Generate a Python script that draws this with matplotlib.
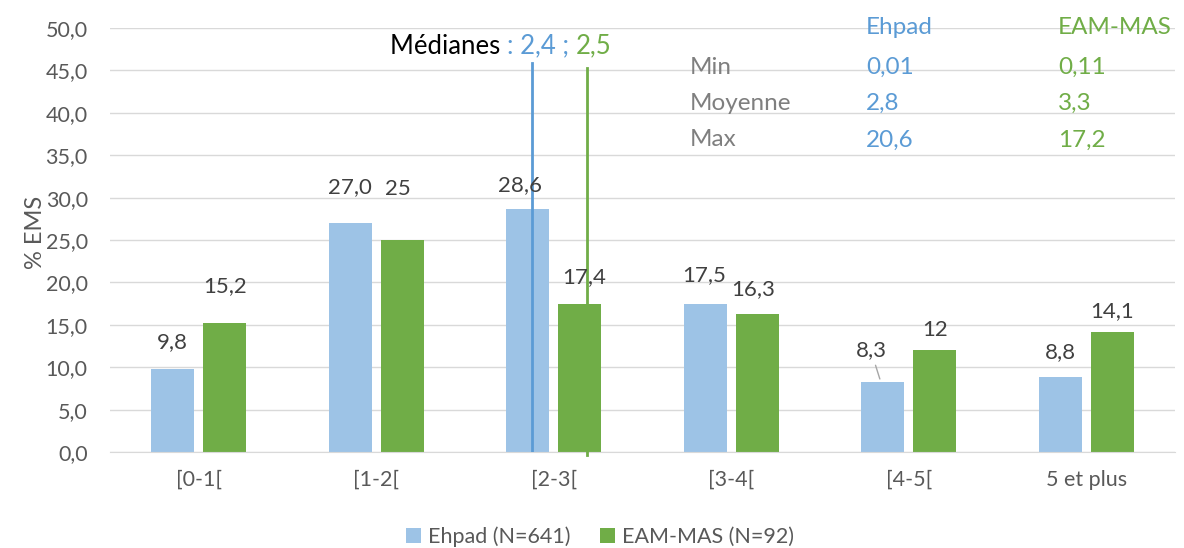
import matplotlib
matplotlib.use("Agg")
import matplotlib.pyplot as plt
import numpy as np

categories = ["[0-1[", "[1-2[", "[2-3[", "[3-4[", "[4-5[", "5 et plus"]
ehpad = [9.8, 27.0, 28.6, 17.5, 8.3, 8.8]
eam = [15.2, 25, 17.4, 16.3, 12, 14.1]
ehpad_labels = ["9,8", "27,0", "28,6", "17,5", "8,3", "8,8"]
eam_labels = ["15,2", "25", "17,4", "16,3", "12", "14,1"]
series_names = ["Ehpad (N=641)", "EAM-MAS (N=92)"]
yticks = [0, 5, 10, 15, 20, 25, 30, 35, 40, 45, 50]
ytick_labels = ["0,0", "5,0", "10,0", "15,0", "20,0", "25,0", "30,0", "35,0", "40,0", "45,0", "50,0"]
stat_rows = ["Min", "Moyenne", "Max"]
stat_ehpad = ["0,01", "2,8", "20,6"]
stat_eam = ["0,11", "3,3", "17,2"]
medians = ["2,4", "2,5"]

C_BLUE = "#9DC3E6"
C_GREEN = "#70AD47"
T_BLUE = "#5B9BD5"
T_GREEN = "#70AD47"
GREY = "#595959"

plt.rcParams['font.family'] = ['Lato', 'DejaVu Sans']

FS = 15.5
FS_LAB = 16
FS_STAT = 17.5
FS_MED = 18.5

fig = plt.figure(figsize=(11.84, 5.48), dpi=100)
ax = fig.add_axes([110/1184, 96/548, 1065/1184, 424/548])

def fx(px):
    return (px - 110) / 1065
def fy(py):
    return (452 - py) / 424

x = np.arange(len(categories))
w = 0.242
gap = 0.05
b1 = ax.bar(x - (w + gap)/2, ehpad, w, color=C_BLUE, label=series_names[0], zorder=2)
b2 = ax.bar(x + (w + gap)/2, eam, w, color=C_GREEN, label=series_names[1], zorder=2)

# label offsets in pixels (dx, dy)
off1 = [(0, 27), (0, 36), (-8, 24), (-1, 29), (-11, 32), (0, 25)]
off2 = [(0, 37), (-4, 51), (4, 27), (-4, 25), (0, 20), (0, 21)]
for rect, lab, (dx, dy) in zip(b1, ehpad_labels, off1):
    ax.annotate(lab, (rect.get_x() + rect.get_width()/2, rect.get_height()),
                xytext=(dx*0.72, dy*0.72), textcoords="offset points",
                ha="center", va="center", fontsize=FS_LAB, color="#404040", zorder=4)
for rect, lab, (dx, dy) in zip(b2, eam_labels, off2):
    ax.annotate(lab, (rect.get_x() + rect.get_width()/2, rect.get_height()),
                xytext=(dx*0.72, dy*0.72), textcoords="offset points",
                ha="center", va="center", fontsize=FS_LAB, color="#404040", zorder=4)

# leader line for 8,3
r = b1[4]
ax.annotate("", (r.get_x() + r.get_width()*0.45, r.get_height()),
            xytext=(-6*0.72, 19*0.72), textcoords="offset points",
            arrowprops=dict(arrowstyle="-", color="#A6A6A6", lw=1))

# median lines
ax.plot([1.876, 1.876], [0, 45.9], color=T_BLUE, lw=2, zorder=3)
ax.plot([2.19, 2.19], [-0.35, 45.3], color=T_GREEN, lw=2, zorder=3, clip_on=False)

# composite median text
ymed = fy(46)
t0 = ax.text(fx(390), ymed, "Médianes ", transform=ax.transAxes, fontsize=FS_MED, color="black",
             ha="left", va="center")
fig.canvas.draw()
inv = ax.transAxes.inverted()
bb = t0.get_window_extent()
xx = inv.transform((bb.x1, bb.y0))[0]
t1 = ax.text(xx, ymed, ": " + medians[0] + " ; ", transform=ax.transAxes, fontsize=FS_MED,
             color=T_BLUE, ha="left", va="center")
fig.canvas.draw()
bb = t1.get_window_extent()
xx = inv.transform((bb.x1, bb.y0))[0]
ax.text(xx, ymed, medians[1], transform=ax.transAxes, fontsize=FS_MED,
        color=T_GREEN, ha="left", va="center")

# stats table
ax.text(fx(866), fy(28), "Ehpad", transform=ax.transAxes, fontsize=FS_STAT, color=T_BLUE, ha="left", va="center")
ax.text(fx(1058), fy(28), "EAM-MAS", transform=ax.transAxes, fontsize=FS_STAT, color=T_GREEN, ha="left", va="center")
for i, (rl, a, b) in enumerate(zip(stat_rows, stat_ehpad, stat_eam)):
    yy = fy(67 + i*36.5)
    ax.text(fx(690), yy, rl, transform=ax.transAxes, fontsize=FS_STAT, color="#7F7F7F", ha="left", va="center")
    ax.text(fx(866), yy, a, transform=ax.transAxes, fontsize=FS_STAT, color=T_BLUE, ha="left", va="center")
    ax.text(fx(1058), yy, b, transform=ax.transAxes, fontsize=FS_STAT, color=T_GREEN, ha="left", va="center")

ax.set_ylim(0, 50)
ax.set_xlim(-0.5, len(categories) - 0.5)
ax.set_yticks(yticks)
ax.set_yticklabels(ytick_labels)
ax.set_xticks(x)
ax.set_xticklabels(categories)
ax.tick_params(axis="x", length=0, labelsize=FS, colors=GREY, pad=13)
ax.tick_params(axis="y", length=0, labelsize=FS, colors=GREY, pad=16)
ax.grid(axis="y", color="#D9D9D9", lw=1, zorder=0)
ax.set_axisbelow(True)
for s in ["top", "right", "left"]:
    ax.spines[s].set_visible(False)
ax.spines["bottom"].set_color("#D9D9D9")
ax.set_ylabel("% EMS", fontsize=17, color=GREY)
ax.yaxis.set_label_coords(fx(46), fy(232))

ax.legend(loc="center", bbox_to_anchor=(fx(600), fy(537)), ncol=2, frameon=False,
          fontsize=FS, labelcolor=GREY, handlelength=0.7, handleheight=0.7,
          handletextpad=0.3, columnspacing=1.4)

fig.savefig("out.png", dpi=100)
